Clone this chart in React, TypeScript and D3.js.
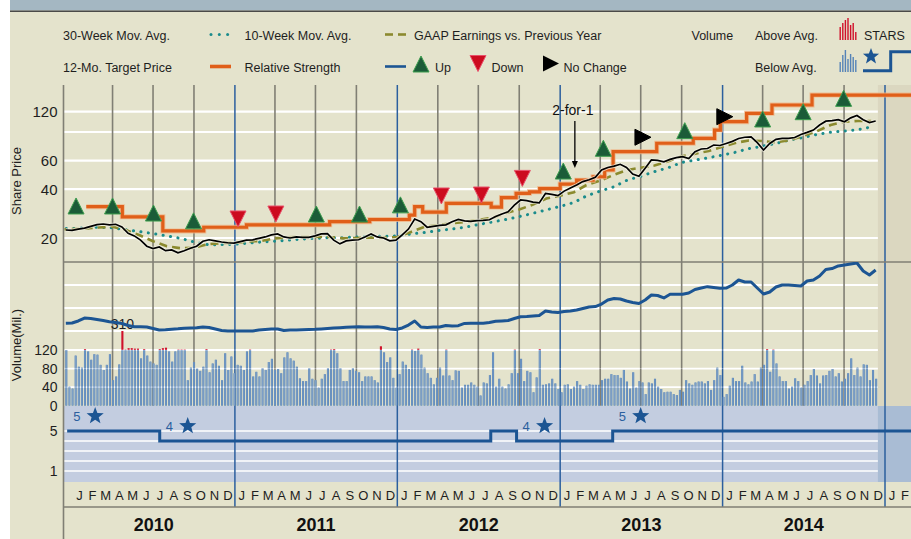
import React from "react";
import * as d3 from "d3";

const W = 911;
const H = 539;

// biweekly share prices, first point 2009-12-17
const priceStart = "2009-12-17";
const prices = [
  22.4, 22.3, 22.7, 23.0, 23.6, 24.2, 24.4, 24.1, 24.3, 23.4,
  21.4, 20.6, 19.4, 17.8, 17.2, 17.6, 16.7, 16.9, 16.2, 16.7,
  17.3, 17.8, 19.1, 19.5, 19.2, 18.9, 18.7, 18.6, 19.0, 19.4,
  19.5, 19.9, 20.3, 20.9, 21.2, 20.3, 20.0, 20.3, 20.2, 20.2,
  20.6, 21.2, 21.3, 19.4, 18.4, 19.2, 19.4, 19.5, 20.3, 21.2,
  20.3, 20.0, 19.2, 19.4, 20.9, 22.7, 26.2, 25.2, 23.3, 23.6,
  23.9, 24.1, 25.2, 26.0, 25.5, 25.3, 25.6, 25.7, 25.9, 27.1,
  28.1, 29.0, 31.9, 34.3, 34.0, 33.3, 32.9, 37.6, 37.1, 36.5,
  38.9, 40.7, 42.4, 44.5, 45.7, 47.3, 52.5, 54.4, 55.4, 56.9,
  54.4, 49.6, 48.0, 53.8, 60.5, 60.1, 58.9, 61.0, 62.6, 63.4,
  61.8, 68.0, 70.7, 71.2, 74.8, 74.3, 76.5, 78.8, 82.1, 83.5,
  83.9, 77.3, 69.7, 76.5, 81.0, 82.1, 82.3, 83.2, 86.9, 89.5,
  92.5, 99.4, 104.9, 105.6, 107.1, 104.1, 110.0, 113.8, 107.1, 102.9, 105.2,
];

// relative strength, same biweekly dates as prices
const relStrength = [
  33.4, 33.7, 35.9, 39.1, 38.6, 37.5, 36.4, 35.1, 34.2, 33.2,
  31.0, 29.7, 29.7, 29.3, 27.7, 26.1, 26.4, 27.0, 27.4, 28.0,
  28.3, 28.6, 29.3, 28.8, 27.2, 25.5, 25.0, 25.0, 25.0, 25.0,
  25.0, 26.1, 26.6, 27.2, 27.2, 25.5, 26.1, 26.1, 26.4, 26.6,
  26.8, 27.2, 27.7, 28.3, 28.6, 29.0, 29.3, 29.7, 29.3, 29.3,
  29.7, 28.8, 27.2, 26.6, 28.3, 31.5, 35.9, 29.3, 28.8, 29.3,
  29.3, 31.0, 30.4, 30.8, 33.2, 33.4, 33.4, 33.4, 34.2, 35.5,
  35.9, 36.4, 38.6, 40.5, 40.8, 41.3, 41.8, 46.7, 45.7, 45.1,
  46.2, 46.7, 47.8, 49.5, 51.1, 51.6, 54.3, 58.7, 60.3, 59.8,
  57.6, 56.0, 54.9, 58.7, 64.1, 63.6, 60.9, 64.9, 64.9, 64.9,
  66.3, 70.1, 71.7, 73.2, 72.3, 71.4, 71.7, 75.0, 80.4, 78.3,
  78.3, 71.7, 65.2, 67.4, 72.8, 75.0, 75.0, 74.5, 73.9, 79.3,
  80.4, 84.8, 91.8, 92.9, 95.7, 96.7, 97.8, 98.9, 90.2, 85.9, 91.3,
];

// monthly moving averages, first point 2009-12-01
const maStart = "2009-12-01";
const ma10 = [
  22.6,
  22.7, 22.9, 23.2, 23.5, 22.4, 20.8, 19.1, 17.8, 17.3, 17.4, 18.3, 18.6,
  18.7, 19.0, 19.2, 19.9, 20.2, 20.3, 20.3, 20.3, 19.9, 20.0, 20.1, 20.1,
  20.3, 21.8, 23.4, 24.0, 24.6, 25.1, 25.9, 26.6, 28.5, 30.0, 32.1, 35.0,
  36.4, 38.3, 42.4, 45.1, 48.9, 52.5, 54.2, 55.9, 59.4, 63.7, 66.2, 68.8,
  72.9, 77.3, 79.8, 79.1, 77.6, 80.3, 85.0, 91.0, 99.4, 104.1, 105.2, 105.2,
];
const ma30 = [
  22.8,
  22.9, 23.1, 23.3, 23.1, 22.5, 21.9, 21.3, 20.6, 19.9, 18.9, 18.2, 18.2,
  18.3, 18.6, 18.9, 19.1, 19.4, 19.7, 19.9, 20.1, 20.1, 20.3, 20.4, 20.5,
  20.6, 21.2, 21.6, 22.2, 22.7, 23.3, 24.2, 25.1, 26.0, 27.1, 28.4, 29.8,
  31.3, 33.1, 36.3, 38.9, 41.3, 45.5, 48.0, 51.3, 54.2, 58.4, 60.5, 62.5,
  64.9, 67.7, 71.1, 73.6, 76.5, 80.3, 83.2, 86.9, 89.7, 91.2, 93.0, 96.7,
];

// 12-month target price (step changes)
const targetDates = [
  "2010-02-01", "2010-04-23", "2010-07-23", "2010-10-23", "2011-01-27", "2011-08-02",
  "2011-10-31", "2012-01-28", "2012-02-09", "2012-02-27", "2012-04-20", "2012-07-30",
  "2012-08-22", "2012-09-24", "2012-10-24", "2012-11-16", "2013-01-01", "2013-02-07",
  "2013-03-16", "2013-04-11", "2013-04-30", "2013-08-06", "2013-10-27", "2013-12-14",
  "2013-12-27", "2014-02-24", "2014-04-22", "2014-07-21", "2015-03-31",
];
const targetValues = [
  31.2, 27.0, 22.1, 23.3, 24.1, 25.2,
  26.0, 27.7, 31.2, 28.9, 32.7, 31.0,
  35.5, 37.7, 38.5, 40.3, 43.0, 45.4,
  47.7, 52.5, 68.1, 76.7, 82.3, 92.5,
  104.1, 117.3, 132.0, 152.0, 152.0,
];

// analyst recommendation changes
const recDates = [
  "2010-01-09", "2010-04-01", "2010-07-02", "2010-09-30", "2011-01-08", "2011-04-03",
  "2011-07-03", "2011-10-08", "2012-01-08", "2012-04-09", "2012-07-08", "2012-10-08",
  "2013-01-08", "2013-04-08", "2013-07-06", "2013-10-08", "2014-01-06", "2014-04-01",
  "2014-07-01", "2014-09-30",
];
const recTypes = [
  "up", "up", "up", "up", "down", "down",
  "up", "up", "up", "down", "down", "down",
  "up", "up", "hold", "up", "hold", "up",
  "up", "up",
];
const recLevels = [
  31.5, 31.5, 28.5, 25.5, 26.2, 28.1,
  28.1, 28.1, 32.0, 36.3, 36.8, 46.6,
  51.7, 71.4, 83.5, 91.7, 111.8, 108.2,
  120, 145,
];

// weekly volume (millions), first bar 2009-12-18
const volStart = "2009-12-18";
const volumes = [
  120, 41, 37, 108, 84, 82, 122, 117, 99, 111, 110, 88, 77, 88, 111, 55, 63, 89, 310, 121,
  124, 124, 123, 123, 102, 122, 108, 95, 91, 88, 122, 124, 125, 117, 95, 117, 121, 121, 121, 55,
  82, 94, 80, 75, 84, 122, 72, 91, 99, 86, 55, 113, 77, 106, 70, 88, 86, 77, 117, 121,
  63, 73, 63, 81, 77, 94, 101, 77, 79, 70, 104, 115,
  102, 97, 84, 59, 53, 53, 81, 58, 55, 39, 58, 68, 81, 121, 122, 113, 81, 53, 53, 77,
  81, 75, 72, 53, 63, 63, 63, 55, 50, 128, 115, 94, 104, 60, 39, 68, 95, 88, 79, 121,
  118, 123, 110, 82, 70, 60, 46, 60, 82, 65, 121, 65, 55, 76, 75, 39, 45, 45, 50, 45,
  41, 22, 50, 48, 66, 115, 41, 58, 41, 37, 46, 70, 121, 70, 101, 53, 75, 72, 29, 61,
  122, 45, 46, 48, 58, 48, 36, 29, 45, 46, 36, 41, 53, 45, 36, 43,
  46, 45, 45, 45, 55, 58, 58, 68, 66, 66, 60, 77, 52, 37, 72, 39, 53, 50, 25, 50,
  48, 58, 41, 36, 29, 30, 30, 25, 23, 34, 30, 55, 48, 45, 50, 52, 52, 48, 53, 34,
  55, 82, 66, 19, 25, 43, 60, 53, 53, 86, 50, 46, 52, 68, 52, 82, 88, 122, 73, 121,
  91, 63, 53, 53, 37, 41, 59, 53, 39, 45, 53, 66, 79, 65, 48, 65, 66, 75, 79, 63,
  70, 52, 58, 70, 102, 66, 82, 63, 89, 88, 55, 77, 58,
];

// S&P STARS ranking changes
const starDates = ["2009-12-20", "2010-07-16", "2012-07-29", "2012-09-25", "2013-04-29", "2015-03-31"];
const starValues = [5, 4, 5, 4, 5, 5];
const starLabelled = [true, true, false, true, true, false];

const priceTicks = [20, 40, 60, 120];
const priceGrid = [20, 40, 60, 90, 120];
const volTicks = [0, 40, 80, 120];
const rsGrid = [25, 50, 75];
const starTicks = [5, 1];
const years = [2010, 2011, 2012, 2013, 2014];
const monthLetters = ["J", "F", "M", "A", "M", "J", "J", "A", "S", "O", "N", "D"];
const splitDay = "2013-02-03";

const FONT = "Arial, 'Liberation Sans', Helvetica, sans-serif";
const BEIGE = "#e4e3cc";
const GRAYLINE = "#807f74";
const BLUELINE = "#2b5f9e";

const parse = d3.utcParse("%Y-%m-%d");

function starPath(cx: number, cy: number, R: number) {
  const r = R * 0.42;
  const pts: string[] = [];
  for (let i = 0; i < 10; i++) {
    const a = -Math.PI / 2 + (i * Math.PI) / 5;
    const rr = i % 2 === 0 ? R : r;
    pts.push(`${(cx + rr * Math.cos(a)).toFixed(2)},${(cy + rr * Math.sin(a)).toFixed(2)}`);
  }
  return "M" + pts.join("L") + "Z";
}

function triPath(type: string, cx: number, cy: number) {
  const s = 8;
  if (type === "up") return `M${cx - s},${cy + s}L${cx},${cy - s}L${cx + s},${cy + s}Z`;
  if (type === "down") return `M${cx - s},${cy - s}L${cx + s},${cy - s}L${cx},${cy + s}Z`;
  return `M${cx - s},${cy - s}L${cx + s},${cy}L${cx - s},${cy + s}Z`;
}

const triFill: Record<string, string> = { up: "#1b5c38", down: "#cc0b1f", hold: "#000" };
const triStroke: Record<string, string> = { up: "#3d9e4e", down: "#e8506a", hold: "#000" };

export default function App() {
  const L = 63.5;
  const PT = 85;
  const PB = 262;
  const ST = 406;
  const SB = 482;
  const AX = 507;

  const x = d3
    .scaleUtc()
    .domain([parse("2010-01-01")!, parse("2015-01-01")!])
    .range([72.5, 885]);
  const yP = d3.scaleLog().domain([20, 120]).range([238, 111.7]);
  const yV = d3.scaleLinear().domain([0, 120]).range([405.7, 350]);
  const yRS = d3.scaleLinear().domain([0, 100]).range([354, 262]);
  const yS = d3.scaleLinear().domain([1, 5]).range([471, 431]);

  const pStart = parse(priceStart)!;
  const priceDates = prices.map((_, i) => d3.utcDay.offset(pStart, 14 * i));
  const mStart = parse(maStart)!;
  const maDates = ma10.map((_, i) => d3.utcMonth.offset(mStart, i));
  const vStart = parse(volStart)!;
  const volDates = volumes.map((_, i) => d3.utcDay.offset(vStart, 7 * i));

  const plain = d3
    .line<[Date, number]>()
    .x((d) => x(d[0]))
    .y((d) => yP(d[1]));
  const stepLine = d3
    .line<[Date, number]>()
    .x((d) => x(d[0]))
    .y((d) => yP(d[1]))
    .curve(d3.curveStepAfter);

  const pricePath = plain(priceDates.map((d, i) => [d, prices[i]]))!;
  const ma10Path = plain(maDates.map((d, i) => [d, ma10[i]]))!;
  const ma30Path = plain(maDates.map((d, i) => [d, ma30[i]]))!;
  const targetPath = stepLine(targetDates.map((d, i) => [parse(d)!, targetValues[i]]))!;

  const rsPath = d3
    .line<[Date, number]>()
    .x((d) => x(d[0]))
    .y((d) => yRS(d[1]))(priceDates.map((d, i) => [d, relStrength[i]]))!;

  const starsPath = d3
    .line<[Date, number]>()
    .x((d) => x(d[0]))
    .y((d) => yS(d[1]))
    .curve(d3.curveStepAfter)(starDates.map((d, i) => [parse(d)!, starValues[i]]))!;

  const volCap = 161;
  const volAvg = 120;

  const shadeX = x(parse("2014-12-16")!);

  const quarters = d3
    .utcMonths(parse("2010-01-01")!, parse("2015-06-01")!, 3)
    .filter((d) => d.getUTCMonth() !== 0)
    .map((d) => x(d))
    .filter((v) => v < W);
  const yearLines = d3
    .utcYears(parse("2011-01-01")!, parse("2016-01-01")!)
    .map((d) => x(d))
    .filter((v) => v < W);
  const months = d3.utcMonths(parse("2010-01-01")!, parse("2015-04-01")!).map((d) => ({
    label: monthLetters[d.getUTCMonth()],
    cx: (x(d) + x(d3.utcMonth.offset(d, 1))) / 2,
  }));

  const sx = x(parse(splitDay)!);

  const legendText = { fontFamily: FONT, fontSize: 12.5, fill: "#1e1e1e" };

  return (
    <svg width={W} height={H} style={{ display: "block", position: "absolute", left: 0, top: 0 }}>
      <defs>
        <clipPath id="pclip">
          <rect x={L + 1} y={PT} width={W - L} height={PB - PT} />
        </clipPath>
        <clipPath id="rclip">
          <rect x={L + 1} y={PB} width={W - L} height={ST - PB} />
        </clipPath>
        <clipPath id="sclip">
          <rect x={L + 1} y={ST} width={W - L} height={SB - ST} />
        </clipPath>
      </defs>
      <rect x={0} y={0} width={W} height={H} fill="#fff" />
      <rect x={10} y={0} width={W - 10} height={H} fill={BEIGE} />
      <rect x={10} y={0} width={W - 10} height={10.5} fill="#a4b7c2" />
      <rect x={10} y={10.5} width={W - 10} height={1.5} fill="#4a4a48" />

      {/* price gridlines */}
      {priceGrid.map((v) => (
        <line key={"pg" + v} x1={L} x2={W} y1={yP(v)} y2={yP(v)} stroke="#fff" strokeWidth={2.2} />
      ))}
      {rsGrid.map((v) => (
        <line key={"rg" + v} x1={L} x2={W} y1={yRS(v)} y2={yRS(v)} stroke="#fff" strokeWidth={1.8} />
      ))}
      {volTicks.slice(1).map((v) => (
        <line key={"vg" + v} x1={L} x2={W} y1={yV(v)} y2={yV(v)} stroke="#fff" strokeWidth={1.8} />
      ))}

      {/* stars panel */}
      <rect x={L} y={ST} width={W - L} height={SB - ST} fill="#c3cde0" />
      {[1, 2, 3, 4, 5].map((v) => (
        <line key={"sg" + v} x1={L} x2={W} y1={yS(v)} y2={yS(v)} stroke="#fff" strokeWidth={1.6} />
      ))}

      {/* future shading */}
      <rect x={shadeX} y={PT} width={W - shadeX} height={ST - PT} fill="#dbd7c0" />
      <rect x={shadeX} y={ST} width={W - shadeX} height={SB - ST} fill="#a9bcd4" />

      {/* quarter and year lines */}
      {quarters.map((qx, i) => (
        <line key={"q" + i} x1={qx} x2={qx} y1={PT} y2={405.7} stroke={GRAYLINE} strokeWidth={1.6} />
      ))}
      {yearLines.map((yx, i) => (
        <line key={"y" + i} x1={yx} x2={yx} y1={PT} y2={AX} stroke={BLUELINE} strokeWidth={1.5} />
      ))}
      <line x1={L} x2={W} y1={PB} y2={PB} stroke={GRAYLINE} strokeWidth={1.6} />

      {/* volume */}
      <g clipPath="url(#rclip)">
        {volumes.map((v, i) => {
          const bx = x(volDates[i]) - 1;
          const top = yV(Math.min(v, volCap));
          const mid = yV(Math.min(v, volAvg));
          return (
            <g key={"v" + i}>
              <rect x={bx} y={mid} width={2.1} height={yV(0) - mid} fill="#5583b7" />
              <rect x={bx + 0.6} y={mid} width={0.8} height={yV(0) - mid} fill="#86a6cb" />
              {v > volAvg && <rect x={bx} y={top} width={2.1} height={mid - top} fill="#d0102a" />}
            </g>
          );
        })}
        {volumes.map((v, i) =>
          v > volCap ? (
            <text
              key={"vl" + i}
              x={x(volDates[i])}
              y={yV(volCap) - 2}
              textAnchor="middle"
              fontFamily={FONT}
              fontSize={14}
              fill="#1e1e1e"
            >
              {v}
            </text>
          ) : null
        )}
      </g>
      {volTicks.slice(1).map((v) => (
        <line key={"vg2" + v} x1={L} x2={shadeX} y1={yV(v)} y2={yV(v)} stroke="#fff" strokeWidth={1} opacity={0.35} />
      ))}

      {/* relative strength */}
      <path d={rsPath} fill="none" stroke="#1c5593" strokeWidth={3} strokeLinejoin="round" clipPath="url(#rclip)" />

      {/* price panel */}
      <g clipPath="url(#pclip)">
        <path d={ma30Path} fill="none" stroke="#1b8c8c" strokeWidth={3} strokeDasharray="0.1 7.4" strokeLinecap="round" />
        <path d={ma10Path} fill="none" stroke="#8b8a2e" strokeWidth={2.6} strokeDasharray="8 5" />
        <path d={targetPath} fill="none" stroke="#f0b384" strokeWidth={5} opacity={0.8} />
        <path d={targetPath} fill="none" stroke="#e05f19" strokeWidth={3.2} />
        <path d={pricePath} fill="none" stroke="#f7f5e8" strokeWidth={3.6} opacity={0.7} strokeLinejoin="round" />
        <path d={pricePath} fill="none" stroke="#000" strokeWidth={1.7} strokeLinejoin="miter" />
      </g>

      {/* recommendations */}
      {recDates.map((d, i) => (
        <path
          key={"r" + i}
          d={triPath(recTypes[i], x(parse(d)!), yP(recLevels[i]))}
          fill={triFill[recTypes[i]]}
          stroke={triStroke[recTypes[i]]}
          strokeWidth={1}
        />
      ))}

      {/* split annotation */}
      <text x={sx - 2} y={115} textAnchor="middle" fontFamily={FONT} fontSize={14} fill="#111">
        2-for-1
      </text>
      <line x1={sx} x2={sx} y1={121} y2={163} stroke="#000" strokeWidth={1.3} />
      <path d={`M${sx - 3},161L${sx},168L${sx + 3},161Z`} fill="#000" />

      {/* STARS */}
      <path d={starsPath} fill="none" stroke="#1c5593" strokeWidth={3} clipPath="url(#sclip)" />
      {starDates.map((d, i) =>
        starLabelled[i] ? (
          <g key={"s" + i}>
            <text
              x={x(parse(d)!) + 6}
              y={yS(starValues[i]) - 10}
              fontFamily={FONT}
              fontSize={13}
              fill="#2b5f9e"
            >
              {starValues[i]}
            </text>
            <path d={starPath(x(parse(d)!) + 28, yS(starValues[i]) - 15, 9)} fill="#1c5593" />
          </g>
        ) : null
      )}

      {/* left border and axis */}
      <line x1={L} x2={L} y1={PT} y2={H} stroke={GRAYLINE} strokeWidth={1.6} />
      <line x1={L} x2={W} y1={AX} y2={AX} stroke={GRAYLINE} strokeWidth={1.6} />
      {months
        .filter((m) => m.cx < W)
        .map((m, i) => (
          <text key={"m" + i} x={m.cx} y={499.5} textAnchor="middle" fontFamily={FONT} fontSize={13} fill="#1e1e1e">
            {m.label}
          </text>
        ))}
      {years.map((yr) => (
        <text
          key={"yr" + yr}
          x={(x(parse(`${yr}-01-01`)!) + x(parse(`${yr + 1}-01-01`)!)) / 2}
          y={531}
          textAnchor="middle"
          fontFamily={FONT}
          fontSize={18}
          fontWeight="bold"
          fill="#111"
        >
          {yr}
        </text>
      ))}

      {/* y axis labels */}
      {priceTicks.map((v) => (
        <text key={"pt" + v} x={57.5} y={yP(v) + 5.5} textAnchor="end" fontFamily={FONT} fontSize={15} fill="#1e1e1e">
          {v}
        </text>
      ))}
      {volTicks.map((v) => (
        <text key={"vt" + v} x={57.5} y={yV(v) + 5} textAnchor="end" fontFamily={FONT} fontSize={14} fill="#1e1e1e">
          {v}
        </text>
      ))}
      {starTicks.map((v) => (
        <text key={"st" + v} x={57.5} y={yS(v) + 5} textAnchor="end" fontFamily={FONT} fontSize={14} fill="#1e1e1e">
          {v}
        </text>
      ))}
      <text transform="translate(21,181) rotate(-90)" textAnchor="middle" fontFamily={FONT} fontSize={13} fill="#1e1e1e">
        Share Price
      </text>
      <text transform="translate(21,345) rotate(-90)" textAnchor="middle" fontFamily={FONT} fontSize={13} fill="#1e1e1e">
        Volume(Mil.)
      </text>

      {/* legend */}
      <text x={63} y={40} {...legendText}>30-Week Mov. Avg.</text>
      {[211, 219.3, 227.6].map((cx) => (
        <circle key={"ld" + cx} cx={cx} cy={34.5} r={1.5} fill="#1b8c8c" />
      ))}
      <text x={244.5} y={40} {...legendText}>10-Week Mov. Avg.</text>
      <line x1={385} x2={393} y1={34.5} y2={34.5} stroke="#8b8a2e" strokeWidth={2.6} />
      <line x1={398} x2={406} y1={34.5} y2={34.5} stroke="#8b8a2e" strokeWidth={2.6} />
      <text x={414} y={40} {...legendText}>GAAP Earnings vs. Previous Year</text>
      <text x={691.5} y={40} {...legendText}>Volume</text>
      <text x={755} y={40} {...legendText}>Above Avg.</text>
      {[13, 17, 20, 22, 15, 17, 8].map((h, i) => (
        <rect key={"lr" + i} x={839.5 + i * 2.6} y={40 - h} width={1.4} height={h} fill="#d0102a" />
      ))}
      <text x={864} y={40} {...legendText}>STARS</text>

      <text x={63} y={72} {...legendText}>12-Mo. Target Price</text>
      <line x1={210} x2={231} y1={66.5} y2={66.5} stroke="#e05f19" strokeWidth={3.6} />
      <text x={244.5} y={72} {...legendText}>Relative Strength</text>
      <line x1={385} x2={406} y1={66.5} y2={66.5} stroke="#1c5593" strokeWidth={2.6} />
      <path d={triPath("up", 421, 64)} fill={triFill.up} stroke={triStroke.up} strokeWidth={1} />
      <text x={435} y={72} {...legendText}>Up</text>
      <path d={triPath("down", 478, 63.5)} fill={triFill.down} stroke={triStroke.down} strokeWidth={1} />
      <text x={491.5} y={72} {...legendText}>Down</text>
      <path d={triPath("hold", 551, 63.5)} fill="#000" />
      <text x={563.5} y={72} {...legendText}>No Change</text>
      <text x={755} y={72} {...legendText}>Below Avg.</text>
      {[10, 17, 22, 13, 18, 15, 12].map((h, i) => (
        <rect key={"lb" + i} x={839.5 + i * 2.6} y={72 - h} width={1.4} height={h} fill="#5583b7" />
      ))}
      <path d={starPath(871, 56.5, 8.5)} fill="#1c5593" />
      <path d="M863,70.7H890.7V51.7H911" fill="none" stroke="#1c5593" strokeWidth={3} />
    </svg>
  );
}
